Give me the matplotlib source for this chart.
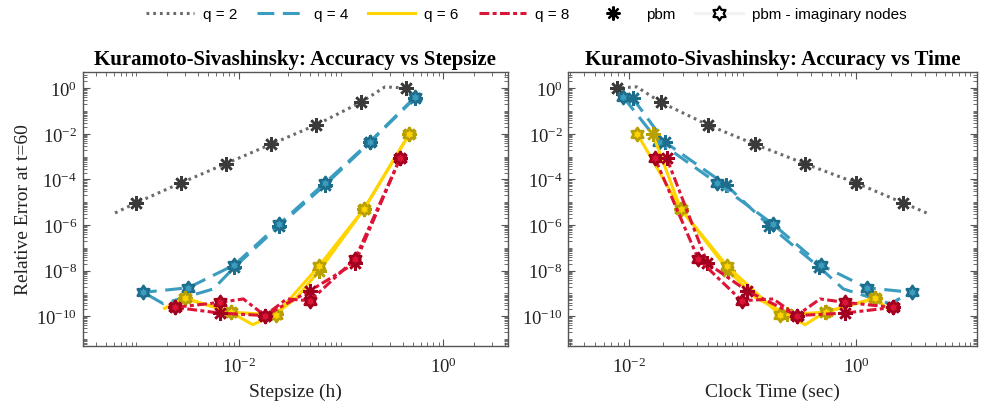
import numpy as np
import matplotlib
matplotlib.use('Agg')
import matplotlib.pyplot as plt
from matplotlib.path import Path
from matplotlib.lines import Line2D
import matplotlib.ticker as mticker

# ---------------- data ----------------
# q = 2 (pbm)
q2_h    = [6.18e-4, 9.91e-4, 2.73e-3, 7.46e-3, 2.06e-2, 5.70e-2, 0.157, 0.269, 0.431]
q2_err  = [3.39e-6, 9.33e-6, 7.08e-5, 4.90e-4, 3.47e-3, 2.45e-2, 0.245, 1.15, 1.02]
q2_time = [4.16, 2.59, 0.993, 0.354, 0.1285, 0.0495, 0.0190, 0.0117, 0.0078]
q2_mark = [0, 1, 1, 1, 1, 1, 1, 0, 1]

# q = 4
q4i_h    = [0.528, 0.192, 0.0698, 0.0249, 0.00906, 0.00321, 0.00117]
q4i_err  = [0.407, 4.57e-3, 7.08e-5, 1.12e-6, 1.78e-8, 1.78e-9, 1.12e-9]
q4i_time = [8.91e-3, 0.0182, 0.0592, 0.184, 0.486, 1.236, 3.07]
q4i_mark = [1, 1, 1, 1, 1, 1, 1]

q4p_h    = [0.528, 0.192, 0.0698, 0.0249, 0.00906, 0.00565, 0.00183, 0.00117]
q4p_err  = [0.372, 4.27e-3, 5.75e-5, 9.33e-7, 1.41e-8, 1.58e-9, 3.55e-10, 1.12e-9]
q4p_time = [0.01076, 0.0208, 0.0714, 0.172, 0.473, 0.769, 1.98, 3.07]
q4p_mark = [1, 1, 1, 1, 1, 0, 0, 0]

# q = 6
q6i_h    = [0.466, 0.168, 0.0614, 0.0230, 0.00836, 0.00299]
q6i_err  = [0.0100, 5.13e-6, 1.66e-8, 1.15e-10, 1.51e-10, 6.17e-10]
q6i_time = [0.01183, 0.0285, 0.0724, 0.213, 0.542, 1.462]
q6i_mark = [1, 1, 1, 1, 1, 1]

q6p_h    = [0.466, 0.168, 0.0614, 0.0369, 0.0230, 0.01371, 0.00836, 0.00299, 0.00183]
q6p_err  = [0.0100, 5.13e-6, 1.00e-8, 6.76e-10, 1.26e-10, 4.27e-11, 1.51e-10, 6.17e-10, 2.09e-10]
q6p_time = [0.01614, 0.0285, 0.0750, 0.1285, 0.244, 0.354, 0.531, 1.462, 1.90]
q6p_mark = [1, 1, 1, 0, 1, 0, 1, 1, 0]

# q = 8
q8i_h    = [0.378, 0.137, 0.0498, 0.0294, 0.01807, 0.01109, 0.00656, 0.00238]
q8i_err  = [8.51e-4, 3.24e-8, 4.79e-10, 5.75e-10, 1.07e-10, 5.75e-10, 4.07e-10, 2.45e-10]
q8i_time = [0.01694, 0.0407, 0.0982, 0.186, 0.299, 0.480, 0.796, 2.12]
q8i_mark = [1, 1, 1, 0, 1, 0, 1, 1]

q8p_h    = [0.378, 0.137, 0.0498, 0.01807, 0.00656, 0.00238]
q8p_err  = [8.51e-4, 2.14e-8, 1.32e-9, 1.07e-10, 1.38e-10, 2.45e-10]
q8p_time = [0.0215, 0.0489, 0.1086, 0.299, 0.796, 2.12]
q8p_mark = [1, 1, 1, 1, 1, 1]

legend_labels = ['q = 2', 'q = 4', 'q = 6', 'q = 8', 'pbm', 'pbm - imaginary nodes']
titles = ['Kuramoto-Sivashinsky: Accuracy vs Stepsize', 'Kuramoto-Sivashinsky: Accuracy vs Time']
xlabels = ['Stepsize (h)', 'Clock Time (sec)']
ylabel = 'Relative Error at t=60'

# ---------------- style ----------------
plt.rcParams['font.family'] = ['Liberation Serif', 'DejaVu Serif']
plt.rcParams['mathtext.fontset'] = 'custom'
plt.rcParams['mathtext.rm'] = 'Liberation Serif'
plt.rcParams['mathtext.it'] = 'Liberation Serif:italic'
plt.rcParams['axes.unicode_minus'] = False

ang = np.deg2rad(90 + 30 * np.arange(12))
rad = np.where(np.arange(12) % 2 == 0, 1.0, 0.6)
hexagram = Path(np.column_stack([rad * np.cos(ang), rad * np.sin(ang)]).tolist() + [[0, 1]],
                [Path.MOVETO] + [Path.LINETO] * 11 + [Path.CLOSEPOLY])
asterisk = (8, 2, 0)

styles = {
    2: dict(color='#6b6b6b', mcol='#3a3a3a', ls=(0, (0.9, 1.3))),
    4: dict(color='#3a9cbf', mcol='#1d6e8c', ls=(0, (5.5, 2.8))),
    6: dict(color='#ffd400', mcol='#b8a000', ls='-'),
    8: dict(color='#dc1436', mcol='#a3001f', ls=(0, (3.2, 1.1, 1.3, 1.1))),
}
LW = 2.2

series = [
    (2, 'p', q2_h, q2_err, q2_time, q2_mark),
    (4, 'p', q4p_h, q4p_err, q4p_time, q4p_mark),
    (4, 'i', q4i_h, q4i_err, q4i_time, q4i_mark),
    (6, 'p', q6p_h, q6p_err, q6p_time, q6p_mark),
    (6, 'i', q6i_h, q6i_err, q6i_time, q6i_mark),
    (8, 'p', q8p_h, q8p_err, q8p_time, q8p_mark),
    (8, 'i', q8i_h, q8i_err, q8i_time, q8i_mark),
]

fig = plt.figure(figsize=(9.82, 4.06), dpi=100)
axL = fig.add_axes([0.0842, 0.1461, 0.4328, 0.6734])
axR = fig.add_axes([0.5787, 0.1461, 0.4162, 0.6734])

for ax, which in ((axL, 'h'), (axR, 't')):
    for q, kind, h, err, tm, mk in series:
        st = styles[q]
        x = h if which == 'h' else tm
        idx = [i for i, m in enumerate(mk) if m]
        if kind == 'p':
            ax.plot(x, err, linestyle=st['ls'], color=st['color'], lw=LW,
                    marker=asterisk, markevery=idx, markersize=10.5, markeredgewidth=1.8,
                    markeredgecolor=st['mcol'], markerfacecolor=st['mcol'],
                    dash_capstyle='butt', solid_capstyle='butt')
        else:
            ax.plot(x, err, linestyle=st['ls'], color=st['color'], lw=LW,
                    marker=hexagram, markevery=idx, markersize=9.5, markeredgewidth=1.9,
                    markeredgecolor=st['mcol'], markerfacecolor=st['color'],
                    dash_capstyle='butt', solid_capstyle='butt')
    ax.set_xscale('log')
    ax.set_yscale('log')
    ax.set_ylim(10 ** -11.29, 10 ** 0.70)
    ax.set_xticks([1e-2, 1e0])
    ax.set_xticklabels([r'$10^{-2}$', r'$10^{0}$'])
    ax.set_yticks([1e-10, 1e-8, 1e-6, 1e-4, 1e-2, 1e0])
    ax.set_yticklabels([r'$10^{-10}$', r'$10^{-8}$', r'$10^{-6}$', r'$10^{-4}$', r'$10^{-2}$', r'$10^{0}$'])
    ax.xaxis.set_minor_locator(mticker.LogLocator(base=10, subs=np.arange(1, 10), numticks=200))
    ax.yaxis.set_minor_locator(mticker.LogLocator(base=10, subs=np.arange(1, 10), numticks=200))
    ax.xaxis.set_minor_formatter(mticker.NullFormatter())
    ax.yaxis.set_minor_formatter(mticker.NullFormatter())
    ax.tick_params(which='both', direction='in', top=True, right=True, color='#555555',
                   labelsize=13.5, labelcolor='#222222')
    ax.tick_params(axis='x', which='major', pad=8)
    ax.tick_params(axis='y', which='major', pad=4)
    ax.tick_params(which='major', length=5, width=0.8)
    ax.tick_params(which='minor', length=2.6, width=0.6)
    for sp in ax.spines.values():
        sp.set_color('#555555')
        sp.set_linewidth(1.0)

axL.set_xlim(10 ** -3.525, 10 ** 0.629)
axR.set_xlim(10 ** -2.534, 10 ** 1.062)

axL.set_title(titles[0], fontsize=15, fontweight='bold', pad=6)
axR.set_title(titles[1], fontsize=15, fontweight='bold', pad=6)
axL.set_xlabel(xlabels[0], fontsize=14, color='#222222', labelpad=5)
axR.set_xlabel(xlabels[1], fontsize=14, color='#222222', labelpad=5)
axL.set_ylabel(ylabel, fontsize=14, color='#222222', labelpad=3)

handles = [
    Line2D([], [], linestyle=styles[2]['ls'], color=styles[2]['color'], lw=LW),
    Line2D([], [], linestyle=styles[4]['ls'], color=styles[4]['color'], lw=LW),
    Line2D([], [], linestyle=styles[6]['ls'], color=styles[6]['color'], lw=LW),
    Line2D([], [], linestyle=styles[8]['ls'], color=styles[8]['color'], lw=LW),
    Line2D([], [], linestyle='none', marker=asterisk, markersize=10, markeredgewidth=1.6,
           color='black'),
    Line2D([], [], linestyle='-', color='#f3f3f3', lw=LW, marker=hexagram, markersize=10,
           markeredgewidth=1.6, markeredgecolor='black', markerfacecolor='white'),
]
fig.legend(handles, legend_labels, loc='center', bbox_to_anchor=(0.536, 0.962), ncol=6,
           frameon=False, handlelength=3.1, handletextpad=0.6, columnspacing=1.3,
           prop={'family': 'Liberation Sans', 'size': 11})

fig.savefig('out.png', dpi=100)
